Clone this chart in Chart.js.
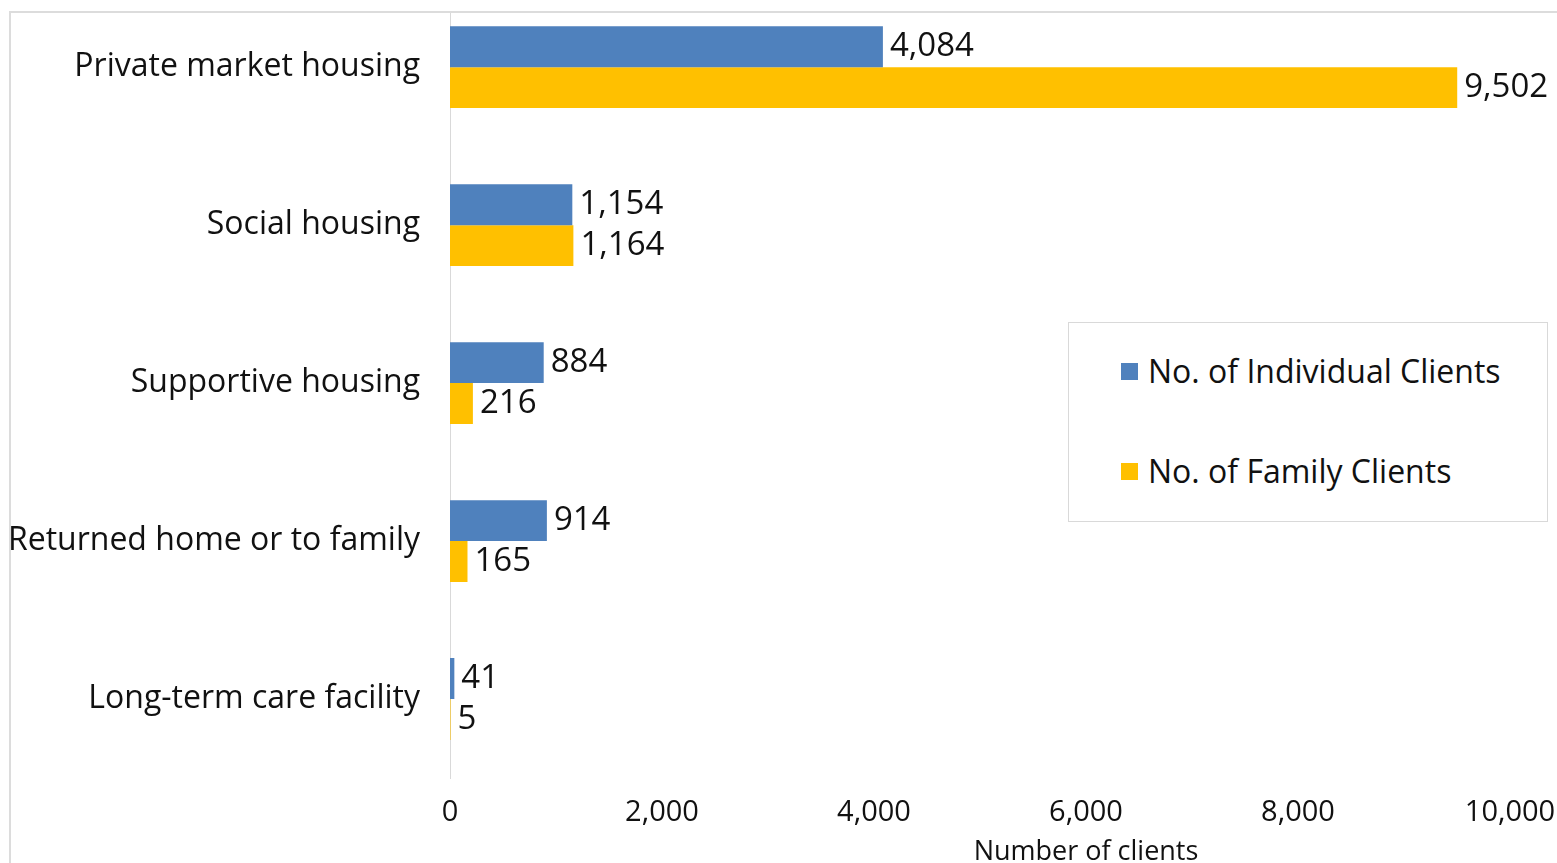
<!DOCTYPE html>
<html>
<head>
<meta charset="utf-8">
<script src="https://cdn.jsdelivr.net/npm/chart.js@4"></script>
<style>
    html, body { margin: 0; padding: 0; background: #fff; overflow: hidden; }
    body { width: 1557px; height: 863px; position: relative; font-family: 'Open Sans', sans-serif; }
    #wrap { position: absolute; left: 0; top: -61px; width: 1557px; height: 924px; }
    #topMask { position: absolute; left: 0; top: 0; width: 1557px; height: 12px; background: #fff; z-index: 2; }
    #frame { position: absolute; left: 9px; top: 11px; width: 1600px; height: 900px; border: 2px solid #dcdcdc; z-index: 3; pointer-events: none; }
    #legend { position: absolute; left: 1068px; top: 322px; width: 478px; height: 198px; border: 1px solid #d9d9d9; background: #fff; z-index: 4; }
    .item { position: absolute; left: 52px; display: flex; align-items: center; font-size: 32px; color: #111; white-space: nowrap; line-height: 40px; }
    .swatch { width: 17px; height: 17px; margin-right: 10px; }
</style>
</head>
<body>
<div id="wrap"><canvas id="chart"></canvas></div>
<div id="topMask"></div>
<div id="frame"></div>
<div id="legend"></div>
<script>
// Chart data
const categories = ['Private market housing', 'Social housing', 'Supportive housing', 'Returned home or to family', 'Long-term care facility'];
const individualClients = [4084, 1154, 884, 914, 41];
const familyClients = [9502, 1164, 216, 165, 5];
const xTicks = [0, 2000, 4000, 6000, 8000, 10000];
const seriesNames = ['No. of Individual Clients', 'No. of Family Clients'];
const seriesColors = ['#4f81bd', '#ffc000'];

const FONT = "'Open Sans', sans-serif";
const fmt = (v) => v.toLocaleString('en-US');

// value labels at the bar ends
const barLabels = {
    id: 'barLabels',
    afterDatasetsDraw(chart) {
        const ctx = chart.ctx;
        ctx.save();
        ctx.font = `33px ${FONT}`;
        ctx.fillStyle = '#111';
        ctx.textAlign = 'left';
        ctx.textBaseline = 'middle';
        chart.data.datasets.forEach((ds, i) => {
            chart.getDatasetMeta(i).data.forEach((bar, j) => {
                ctx.fillText(fmt(ds.data[j]), bar.x + 7, bar.y);
            });
        });
        ctx.restore();
    }
};

// axis title, centred under the 6,000 tick like the original
const axisTitle = {
    id: 'axisTitle',
    afterDraw(chart) {
        const ctx = chart.ctx;
        const x = chart.scales.x.getPixelForValue(6000);
        ctx.save();
        ctx.font = `27px ${FONT}`;
        ctx.fillStyle = '#111';
        ctx.textAlign = 'center';
        ctx.textBaseline = 'middle';
        ctx.fillText('Number of clients', x, chart.chartArea.bottom + 74);
        ctx.restore();
    }
};

new Chart(document.getElementById('chart'), {
    type: 'bar',
    data: {
        labels: categories,
        datasets: [
            { label: seriesNames[0], data: individualClients, backgroundColor: seriesColors[0] },
            { label: seriesNames[1], data: familyClients, backgroundColor: seriesColors[1] },
        ],
    },
    options: {
        indexAxis: 'y',
        responsive: true,
        maintainAspectRatio: false,
        animation: false,
        events: [],
        categoryPercentage: 0.518,
        barPercentage: 1,
        layout: { padding: { top: 20, left: 10, right: 47, bottom: 0 } },
        plugins: { legend: { display: false }, tooltip: { enabled: false } },
        scales: {
            x: {
                min: 0,
                max: 10000,
                afterFit: (s) => { s.height = 85; s.paddingLeft = 0; s.paddingRight = 0; },
                afterBuildTicks: (s) => { s.ticks = xTicks.map(v => ({ value: v })); },
                grid: { display: false, drawTicks: false },
                border: { display: false },
                ticks: { color: '#111', font: { family: FONT, size: 29 }, padding: 17, callback: (v) => fmt(v), maxRotation: 0 },
            },
            y: {
                afterFit: (s) => { s.width = 440; },
                grid: { display: false, drawTicks: false },
                border: { display: true, color: '#d9d9d9', width: 1 },
                ticks: { color: '#111', font: { family: FONT, size: 32 }, padding: 30 },
            },
        },
    },
    plugins: [barLabels, axisTitle],
});

// legend box
const legend = document.getElementById('legend');
seriesNames.forEach((name, i) => {
    const row = document.createElement('div');
    row.className = 'item';
    row.style.top = (i === 0 ? 28 : 128) + 'px';
    row.innerHTML = `<span class="swatch" style="background:${seriesColors[i]}"></span><span>${name}</span>`;
    legend.appendChild(row);
});
</script>
</body>
</html>
